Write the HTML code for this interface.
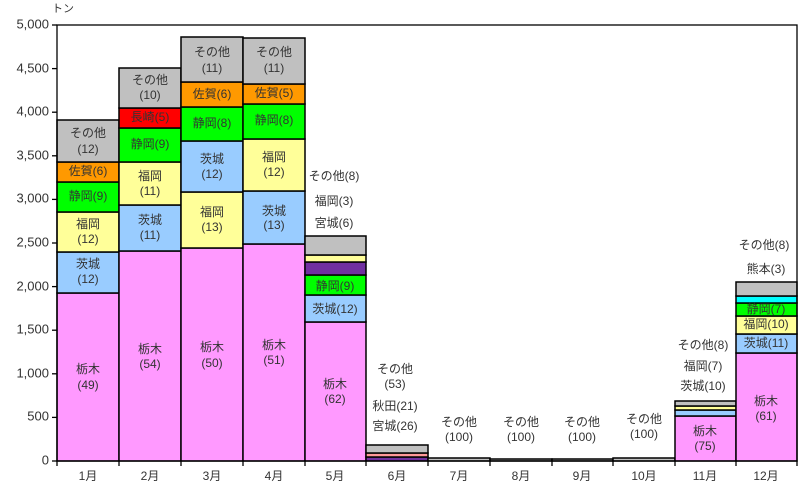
<!DOCTYPE html>
<html><head><meta charset="utf-8"><style>
html,body{margin:0;padding:0;background:#fff;}
svg text{font-family:"Liberation Sans","Noto Sans CJK JP",sans-serif;fill:#333;}
</style></head><body>
<svg width="806" height="491" viewBox="0 0 806 491" xmlns="http://www.w3.org/2000/svg">
<g stroke="#000" stroke-width="1.5">
<!-- M1 57-119 -->
<rect x="57" y="293" width="62" height="168" fill="#FF99FF"/>
<rect x="57" y="252" width="62" height="41" fill="#99CCFF"/>
<rect x="57" y="212" width="62" height="40" fill="#FFFF99"/>
<rect x="57" y="182" width="62" height="30" fill="#00FF00"/>
<rect x="57" y="162" width="62" height="20" fill="#FF9900"/>
<rect x="57" y="120" width="62" height="42" fill="#C0C0C0"/>
<!-- M2 119-181 -->
<rect x="119" y="251" width="62" height="210" fill="#FF99FF"/>
<rect x="119" y="205" width="62" height="46" fill="#99CCFF"/>
<rect x="119" y="162" width="62" height="43" fill="#FFFF99"/>
<rect x="119" y="128" width="62" height="34" fill="#00FF00"/>
<rect x="119" y="108" width="62" height="20" fill="#FF0000"/>
<rect x="119" y="68" width="62" height="40" fill="#C0C0C0"/>
<!-- M3 181-243 -->
<rect x="181" y="248" width="62" height="213" fill="#FF99FF"/>
<rect x="181" y="192" width="62" height="56" fill="#FFFF99"/>
<rect x="181" y="141" width="62" height="51" fill="#99CCFF"/>
<rect x="181" y="107" width="62" height="34" fill="#00FF00"/>
<rect x="181" y="82" width="62" height="25" fill="#FF9900"/>
<rect x="181" y="37" width="62" height="45" fill="#C0C0C0"/>
<!-- M4 243-305 -->
<rect x="243" y="244" width="62" height="217" fill="#FF99FF"/>
<rect x="243" y="191" width="62" height="53" fill="#99CCFF"/>
<rect x="243" y="139" width="62" height="52" fill="#FFFF99"/>
<rect x="243" y="104" width="62" height="35" fill="#00FF00"/>
<rect x="243" y="84" width="62" height="20" fill="#FF9900"/>
<rect x="243" y="38" width="62" height="46" fill="#C0C0C0"/>
<!-- M5 305-366 -->
<rect x="305" y="322" width="61" height="139" fill="#FF99FF"/>
<rect x="305" y="295" width="61" height="27" fill="#99CCFF"/>
<rect x="305" y="275" width="61" height="20" fill="#00FF00"/>
<rect x="305" y="262" width="61" height="13" fill="#7030A0"/>
<rect x="305" y="255" width="61" height="7" fill="#FFFF99"/>
<rect x="305" y="236" width="61" height="19" fill="#C0C0C0"/>
<!-- M6 366-428 -->
<rect x="366" y="457" width="62" height="4" fill="#7030A0"/>
<rect x="366" y="453" width="62" height="4" fill="#FF9999"/>
<rect x="366" y="445" width="62" height="8" fill="#C0C0C0"/>
<!-- M7-10 -->
<rect x="428" y="458" width="62" height="3" fill="#C0C0C0"/>
<rect x="490" y="459" width="62" height="2" fill="#C0C0C0"/>
<rect x="552" y="459" width="61" height="2" fill="#C0C0C0"/>
<rect x="613" y="458" width="62" height="3" fill="#C0C0C0"/>
<!-- M11 675-736 -->
<rect x="675" y="416" width="61" height="45" fill="#FF99FF"/>
<rect x="675" y="410" width="61" height="6" fill="#99CCFF"/>
<rect x="675" y="406" width="61" height="4" fill="#FFFF99"/>
<rect x="675" y="401" width="61" height="5" fill="#C0C0C0"/>
<!-- M12 736-797 -->
<rect x="736" y="353" width="61" height="108" fill="#FF99FF"/>
<rect x="736" y="334" width="61" height="19" fill="#99CCFF"/>
<rect x="736" y="316" width="61" height="18" fill="#FFFF99"/>
<rect x="736" y="303" width="61" height="13" fill="#00FF00"/>
<rect x="736" y="296" width="61" height="7" fill="#00FFFF"/>
<rect x="736" y="282" width="61" height="14" fill="#C0C0C0"/>
</g>
<!-- frame -->
<g stroke="#000" stroke-width="1.3" fill="none">
<rect x="57" y="25" width="740" height="436"/>
<line x1="52" y1="461" x2="57" y2="461"/><line x1="52" y1="417.4" x2="57" y2="417.4"/><line x1="52" y1="373.8" x2="57" y2="373.8"/><line x1="52" y1="330.2" x2="57" y2="330.2"/><line x1="52" y1="286.6" x2="57" y2="286.6"/><line x1="52" y1="243" x2="57" y2="243"/><line x1="52" y1="199.4" x2="57" y2="199.4"/><line x1="52" y1="155.8" x2="57" y2="155.8"/><line x1="52" y1="112.2" x2="57" y2="112.2"/><line x1="52" y1="68.6" x2="57" y2="68.6"/><line x1="52" y1="25" x2="57" y2="25"/>
<line x1="57" y1="461" x2="57" y2="466"/><line x1="119" y1="461" x2="119" y2="466"/><line x1="181" y1="461" x2="181" y2="466"/><line x1="243" y1="461" x2="243" y2="466"/><line x1="305" y1="461" x2="305" y2="466"/><line x1="366" y1="461" x2="366" y2="466"/><line x1="428" y1="461" x2="428" y2="466"/><line x1="490" y1="461" x2="490" y2="466"/><line x1="552" y1="461" x2="552" y2="466"/><line x1="613" y1="461" x2="613" y2="466"/><line x1="675" y1="461" x2="675" y2="466"/><line x1="736" y1="461" x2="736" y2="466"/><line x1="797" y1="461" x2="797" y2="466"/>
</g>
<g font-size="13" text-anchor="end" dominant-baseline="middle">
<text x="49" y="461">0</text><text x="49" y="417">500</text><text x="49" y="374">1,000</text><text x="49" y="330">1,500</text><text x="49" y="287">2,000</text><text x="49" y="243">2,500</text><text x="49" y="199">3,000</text><text x="49" y="156">3,500</text><text x="49" y="112">4,000</text><text x="49" y="69">4,500</text><text x="49" y="25">5,000</text>
</g>
<text x="52" y="12" font-size="11">トン</text>
<g font-size="12" text-anchor="middle" dominant-baseline="middle">
<text x="88" y="477">1月</text><text x="150" y="477">2月</text><text x="212" y="477">3月</text><text x="274" y="477">4月</text><text x="335" y="477">5月</text><text x="397" y="477">6月</text><text x="459" y="477">7月</text><text x="521" y="477">8月</text><text x="582" y="477">9月</text><text x="644" y="477">10月</text><text x="705" y="477">11月</text><text x="766" y="477">12月</text>
</g>
<g font-size="12" text-anchor="middle" dominant-baseline="middle">
<text x="88" y="134">その他</text><text x="88" y="150">(12)</text><text x="88" y="172">佐賀(6)</text><text x="88" y="197">静岡(9)</text><text x="88" y="225">福岡</text><text x="88" y="240">(12)</text><text x="88" y="265">茨城</text><text x="88" y="280">(12)</text><text x="88" y="370">栃木</text><text x="88" y="386">(49)</text>
<text x="150" y="81">その他</text><text x="150" y="96">(10)</text><text x="150" y="118">長崎(5)</text><text x="150" y="145">静岡(9)</text><text x="150" y="177">福岡</text><text x="150" y="192">(11)</text><text x="150" y="221">茨城</text><text x="150" y="236">(11)</text><text x="150" y="350">栃木</text><text x="150" y="365">(54)</text>
<text x="212" y="53">その他</text><text x="212" y="69">(11)</text><text x="212" y="95">佐賀(6)</text><text x="212" y="124">静岡(8)</text><text x="212" y="160">茨城</text><text x="212" y="175">(12)</text><text x="212" y="213">福岡</text><text x="212" y="228">(13)</text><text x="212" y="348">栃木</text><text x="212" y="364">(50)</text>
<text x="274" y="53">その他</text><text x="274" y="69">(11)</text><text x="274" y="94">佐賀(5)</text><text x="274" y="121">静岡(8)</text><text x="274" y="158">福岡</text><text x="274" y="173">(12)</text><text x="274" y="212">茨城</text><text x="274" y="226">(13)</text><text x="274" y="346">栃木</text><text x="274" y="361">(51)</text>
<text x="334" y="177">その他(8)</text><text x="334" y="202">福岡(3)</text><text x="334" y="224">宮城(6)</text><text x="335" y="287">静岡(9)</text><text x="335" y="310">茨城(12)</text><text x="335" y="385">栃木</text><text x="335" y="400">(62)</text>
<text x="395" y="370">その他</text><text x="395" y="385">(53)</text><text x="395" y="407">秋田(21)</text><text x="395" y="427">宮城(26)</text>
<text x="459" y="423">その他</text><text x="459" y="438">(100)</text>
<text x="521" y="423">その他</text><text x="521" y="438">(100)</text>
<text x="582" y="423">その他</text><text x="582" y="438">(100)</text>
<text x="644" y="420">その他</text><text x="644" y="435">(100)</text>
<text x="703" y="346">その他(8)</text><text x="703" y="367">福岡(7)</text><text x="703" y="387">茨城(10)</text><text x="705" y="432">栃木</text><text x="705" y="447">(75)</text>
<text x="764" y="246">その他(8)</text><text x="766" y="270">熊本(3)</text><text x="766" y="310">静岡(7)</text><text x="766" y="325">福岡(10)</text><text x="766" y="344">茨城(11)</text><text x="766" y="402">栃木</text><text x="766" y="417">(61)</text>
</g>
</svg>
</body></html>
